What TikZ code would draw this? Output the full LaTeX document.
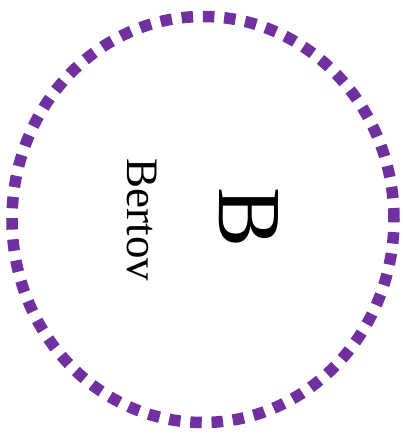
\documentclass[tikz,border=0pt]{standalone}
\usepackage{fontspec}
\setmainfont{Liberation Serif}
\usetikzlibrary{shapes.geometric}
\definecolor{ringpurple}{RGB}{112,48,160}
\begin{document}
\begin{tikzpicture}[x=1pt,y=1pt,
  ring/.style={draw=ringpurple, line width=11.5pt, dash pattern=on 11.5pt off 9.8pt},
  bigletter/.style={inner sep=0pt, rotate=-90, font=\fontsize{90}{90}\selectfont},
  namelabel/.style={inner sep=0pt, rotate=-90, font=\fontsize{45}{45}\selectfont}]
\useasboundingbox (0,0) rectangle (402,-434);
\node[ring, ellipse, minimum width=382pt, minimum height=406pt, inner sep=0pt] (circ) at (203,-219.5) {};
\node[bigletter] (b) at (249,-218) {B};
\node[namelabel] (name) at (142,-220) {Bertov};
\end{tikzpicture}
\end{document}
